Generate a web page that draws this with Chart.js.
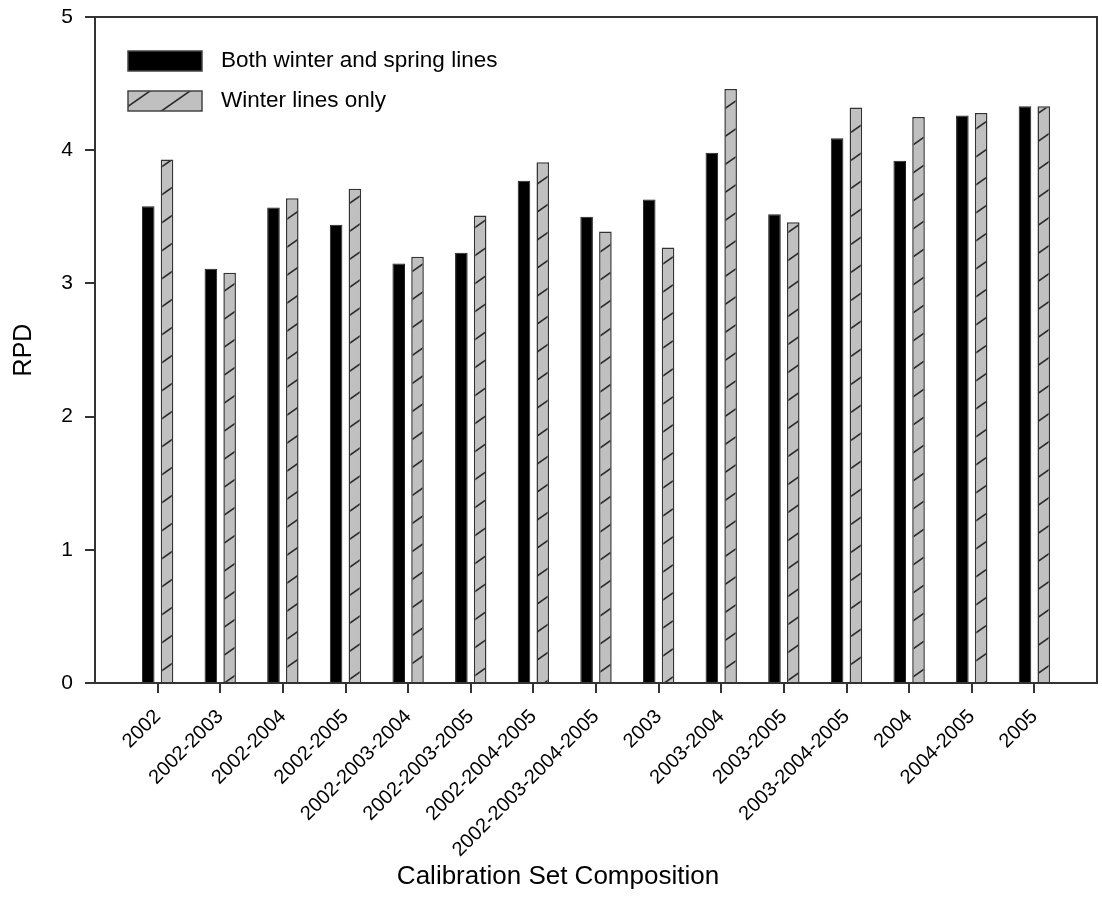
<!DOCTYPE html>
<html>
<head>
<meta charset="utf-8">
<script src="https://cdn.jsdelivr.net/npm/chart.js@4"></script>
<style>
  body { margin: 0; background: #fff; }
  #wrap { width: 1102px; height: 909px; position: relative; }
</style>
</head>
<body>
<div id="wrap"><canvas id="rpdChart"></canvas></div>
<script>
const categories = ['2002', '2002-2003', '2002-2004', '2002-2005', '2002-2003-2004', '2002-2003-2005',
  '2002-2004-2005', '2002-2003-2004-2005', '2003', '2003-2004', '2003-2005', '2003-2004-2005',
  '2004', '2004-2005', '2005'];
const bothLines = [3.58, 3.11, 3.57, 3.44, 3.15, 3.23, 3.77, 3.50, 3.63, 3.98, 3.52, 4.09, 3.92, 4.26, 4.33];
const winterOnly = [3.93, 3.08, 3.64, 3.71, 3.20, 3.51, 3.91, 3.39, 3.27, 4.46, 3.46, 4.32, 4.25, 4.28, 4.33];
const seriesNames = ['Both winter and spring lines', 'Winter lines only'];
const yTicks = [0, 1, 2, 3, 4, 5];
const xTitle = 'Calibration Set Composition';

const FONT = "Arial, 'Liberation Sans', sans-serif";

// diagonal hatch used by the "winter only" bars
const makeHatch = () => {
  const c = document.createElement('canvas');
  c.width = 40; c.height = 28;
  const g = c.getContext('2d');
  g.fillStyle = '#c0c0c0';
  g.fillRect(0, 0, 40, 28);
  g.strokeStyle = '#2a2a2a';
  g.lineWidth = 1.6;
  for (let k = -1; k <= 1; k++) {
    g.beginPath();
    g.moveTo(-40, 56 + k * 28);
    g.lineTo(80, -28 + k * 28);
    g.stroke();
  }
  return g.createPattern(c, 'repeat');
};
const hatch = makeHatch();

const toPoints = (vals) => vals.map((v, i) => ({ x: i + 1, y: v }));

// frame on top/right, legend inside the plot, x title
const framePlugin = {
  id: 'frame',
  afterDraw(chart) {
    const { ctx, chartArea: a } = chart;
    ctx.save();
    ctx.strokeStyle = '#333';
    ctx.lineWidth = 2;
    ctx.beginPath();
    ctx.moveTo(85, a.top);
    ctx.lineTo(a.right, a.top);
    ctx.lineTo(a.right, a.bottom);
    ctx.stroke();

    chart.data.datasets.forEach((ds, i) => {
      const y = 51 + i * 40;
      ctx.fillStyle = ds.backgroundColor;
      ctx.fillRect(128, y, 74, 20);
      ctx.strokeStyle = '#444';
      ctx.lineWidth = 1.5;
      ctx.strokeRect(128, y, 74, 20);
      ctx.fillStyle = '#000';
      ctx.font = '22.5px ' + FONT;
      ctx.textBaseline = 'middle';
      ctx.textAlign = 'left';
      ctx.fillText(ds.label, 221, y + 10);
    });

    ctx.font = '26px ' + FONT;
    ctx.textAlign = 'center';
    ctx.textBaseline = 'middle';
    ctx.fillStyle = '#000';
    ctx.fillText(xTitle, 558, 877);
    ctx.restore();
  }
};

const ctx = document.getElementById('rpdChart').getContext('2d');
const myChart = new Chart(ctx, {
  type: 'bar',
  data: {
    datasets: [
      {
        label: seriesNames[0],
        data: toPoints(bothLines),
        backgroundColor: '#000',
        borderColor: '#222',
        borderWidth: 1,
      },
      {
        label: seriesNames[1],
        data: toPoints(winterOnly),
        backgroundColor: hatch,
        borderColor: '#333',
        borderWidth: 1.5,
      },
    ],
  },
  options: {
    responsive: true,
    maintainAspectRatio: false,
    animation: false,
    categoryPercentage: 0.6,
    barPercentage: 0.67,
    layout: { padding: { left: 0, top: 17, right: 5, bottom: 0 } },
    plugins: {
      legend: { display: false },
      tooltip: { enabled: false },
    },
    scales: {
      x: {
        type: 'linear',
        offset: false,
        min: 0,
        max: categories.length + 1,
        afterBuildTicks: (axis) => {
          axis.ticks = categories.map((c, i) => ({ value: i + 1 }));
        },
        afterFit: (scale) => {
          scale.height = 226;
          scale.paddingLeft = 0;
          scale.paddingRight = 0;
        },
        ticks: {
          autoSkip: false,
          minRotation: 45,
          maxRotation: 45,
          padding: 12,
          color: '#000',
          font: { family: FONT, size: 20 },
          callback: (v) => categories[v - 1] || '',
        },
        grid: { offset: false, drawOnChartArea: false, drawTicks: true, tickLength: 10, color: '#333', lineWidth: 2 },
        border: { color: '#333', width: 2 },
      },
      y: {
        min: 0,
        max: 5,
        afterBuildTicks: (axis) => {
          axis.ticks = yTicks.map((v) => ({ value: v }));
        },
        afterFit: (scale) => {
          scale.width = 95;
          scale.paddingTop = 0;
          scale.paddingBottom = 0;
        },
        ticks: {
          padding: 12,
          color: '#000',
          font: { family: FONT, size: 21 },
        },
        grid: { drawOnChartArea: false, drawTicks: true, tickLength: 10, color: '#333', lineWidth: 2 },
        border: { color: '#333', width: 2 },
        title: {
          display: true,
          text: 'RPD',
          color: '#000',
          font: { family: FONT, size: 25 },
          padding: { top: 9, bottom: 0 },
        },
      },
    },
  },
  plugins: [framePlugin],
});
</script>
</body>
</html>
